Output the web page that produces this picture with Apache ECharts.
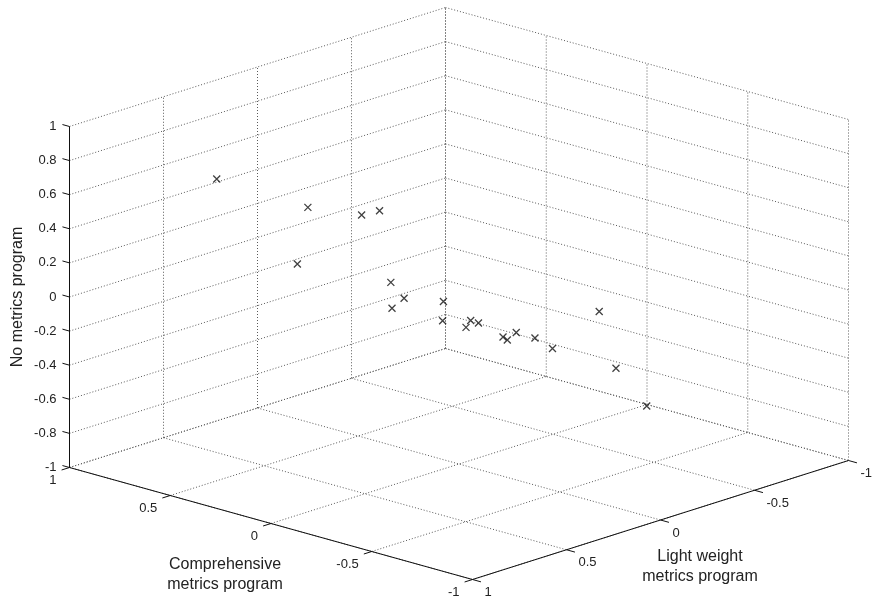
<!DOCTYPE html>
<html><head><meta charset="utf-8">
<script src="https://cdn.jsdelivr.net/npm/echarts@6/dist/echarts.min.js"></script>
<style>html,body{margin:0;padding:0;background:#fff}#c{width:874px;height:602px}</style>
</head><body><div id="c"></div>
<script>
// ---- data ----
const comprehensive = [0.622,0.388,0.250,0.204,0.415,0.175,0.141,0.172,0.040,0.042,-0.018,-0.030,-0.050,-0.113,-0.124,-0.147,-0.195,-0.240,-0.360,-0.403,-0.482];
const lightWeight   = [0.622,0.388,0.250,0.204,0.415,0.175,0.141,0.172,0.040,0.042,-0.018,-0.030,-0.050,-0.113,-0.124,-0.147,-0.195,-0.240,-0.360,-0.403,-0.482];
const noMetrics     = [0.684,0.513,0.466,0.490,0.182,0.069,-0.025,-0.083,-0.046,-0.159,-0.199,-0.159,-0.174,-0.257,-0.275,-0.232,-0.265,-0.328,-0.113,-0.447,-0.670];

// ---- ticks ----
const compTicks = [1, 0.5, 0, -0.5, -1];
const compTickLabels = ['1', '0.5', '0', '-0.5', '-1'];
const lightTicks = [1, 0.5, 0, -0.5, -1];
const lightTickLabels = ['1', '0.5', '0', '-0.5', '-1'];
const noneTicks = [-1, -0.8, -0.6, -0.4, -0.2, 0, 0.2, 0.4, 0.6, 0.8, 1];
const noneTickLabels = ['-1', '-0.8', '-0.6', '-0.4', '-0.2', '0', '0.2', '0.4', '0.6', '0.8', '1'];

const compTitle = 'Comprehensive\nmetrics program';
const lightTitle = 'Light weight\nmetrics program';
const noneTitle = 'No metrics program';

// ---- view (oblique projection of the 3-D box onto the plane) ----
const VIEW = { cx: 459, cy: 293.5, c: [-201.5, -56], l: [-188, 59.5], z: [0, -170.5] };
function proj(c, l, z) {
  return [VIEW.cx + c * VIEW.c[0] + l * VIEW.l[0] + z * VIEW.z[0],
          VIEW.cy + c * VIEW.c[1] + l * VIEW.l[1] + z * VIEW.z[1]];
}

// grid segments on the three back planes
const gridSegs = [];
noneTicks.forEach(z => { gridSegs.push([1, 1, z, 1, -1, z]); gridSegs.push([1, -1, z, -1, -1, z]); });
lightTicks.forEach(l => { if (l !== 1) gridSegs.push([1, l, -1, 1, l, 1]); gridSegs.push([1, l, -1, -1, l, -1]); });
compTicks.forEach(c => { gridSegs.push([c, -1, -1, c, -1, 1]); gridSegs.push([c, 1, -1, c, -1, -1]); });

const axisSegs = [[1, 1, -1, 1, 1, 1], [1, 1, -1, -1, 1, -1], [-1, 1, -1, -1, -1, -1]];
const TL = 0.035;
const tickSegs = [];
noneTicks.forEach(z => tickSegs.push([1, 1, z, 1 + TL, 1, z]));
compTicks.forEach(c => tickSegs.push([c, 1, -1, c, 1 + TL * 1.2, -1]));
lightTicks.forEach(l => tickSegs.push([-1, l, -1, -1 - TL * 1.2, l, -1]));

const FONT = '"Liberation Sans", Arial, Helvetica, sans-serif';

function segSeries(data, style, z) {
  return {
    type: 'custom', data: data, z: z, silent: true,
    renderItem: (p, api) => {
      const a = api.coord(proj(api.value(0), api.value(1), api.value(2)));
      const b = api.coord(proj(api.value(3), api.value(4), api.value(5)));
      return { type: 'line', shape: { x1: a[0], y1: a[1], x2: b[0], y2: b[1] }, style: style };
    }
  };
}
function labelSeries(points, texts, dx, dy, align) {
  return {
    type: 'custom', data: points, z: 5, silent: true,
    renderItem: (p, api) => {
      const a = api.coord(proj(api.value(0), api.value(1), api.value(2)));
      return { type: 'text', x: a[0] + dx, y: a[1] + dy,
        style: { text: texts[p.dataIndex], align: align, verticalAlign: 'middle',
                 fontSize: 13, fontFamily: FONT, fill: '#222' } };
    }
  };
}

const chart = echarts.init(document.getElementById('c'), null, { renderer: 'canvas' });
chart.setOption({
  animation: false,
  backgroundColor: '#fff',
  grid: { left: 0, top: 0, right: 0, bottom: 0 },
  xAxis: { type: 'value', min: 0, max: 874, show: false },
  yAxis: { type: 'value', min: 0, max: 602, inverse: true, show: false },
  graphic: [
    { type: 'text', x: 18, y: 297, rotation: Math.PI / 2,
      style: { text: noneTitle, align: 'center', verticalAlign: 'middle', fontSize: 16, fontFamily: FONT, fill: '#222' } },
    { type: 'text', x: 225, y: 575,
      style: { text: compTitle, align: 'center', verticalAlign: 'middle', fontSize: 16, lineHeight: 20, fontFamily: FONT, fill: '#222' } },
    { type: 'text', x: 700, y: 567,
      style: { text: lightTitle, align: 'center', verticalAlign: 'middle', fontSize: 16, lineHeight: 20, fontFamily: FONT, fill: '#222' } }
  ],
  series: [
    segSeries(gridSegs, { stroke: '#5a5a5a', lineWidth: 1, lineDash: [1, 2] }, 1),
    segSeries(axisSegs, { stroke: '#111', lineWidth: 1 }, 2),
    segSeries(tickSegs, { stroke: '#111', lineWidth: 1 }, 2),
    labelSeries(noneTicks.map(z => [1, 1, z]), noneTickLabels, -13, 0, 'right'),
    labelSeries(compTicks.map(c => [c, 1, -1]), compTickLabels, -13, 13, 'right'),
    labelSeries(lightTicks.map(l => [-1, l, -1]), lightTickLabels, 12, 13, 'left'),
    {
      type: 'scatter', z: 10, silent: true,
      data: comprehensive.map((c, i) => proj(c, lightWeight[i], noMetrics[i])),
      symbol: 'path://M0,0L10,10M10,0L0,10', symbolSize: 7,
      itemStyle: { color: 'rgba(0,0,0,0)', borderColor: '#111', borderWidth: 1.3 }
    }
  ]
});
</script></body></html>
